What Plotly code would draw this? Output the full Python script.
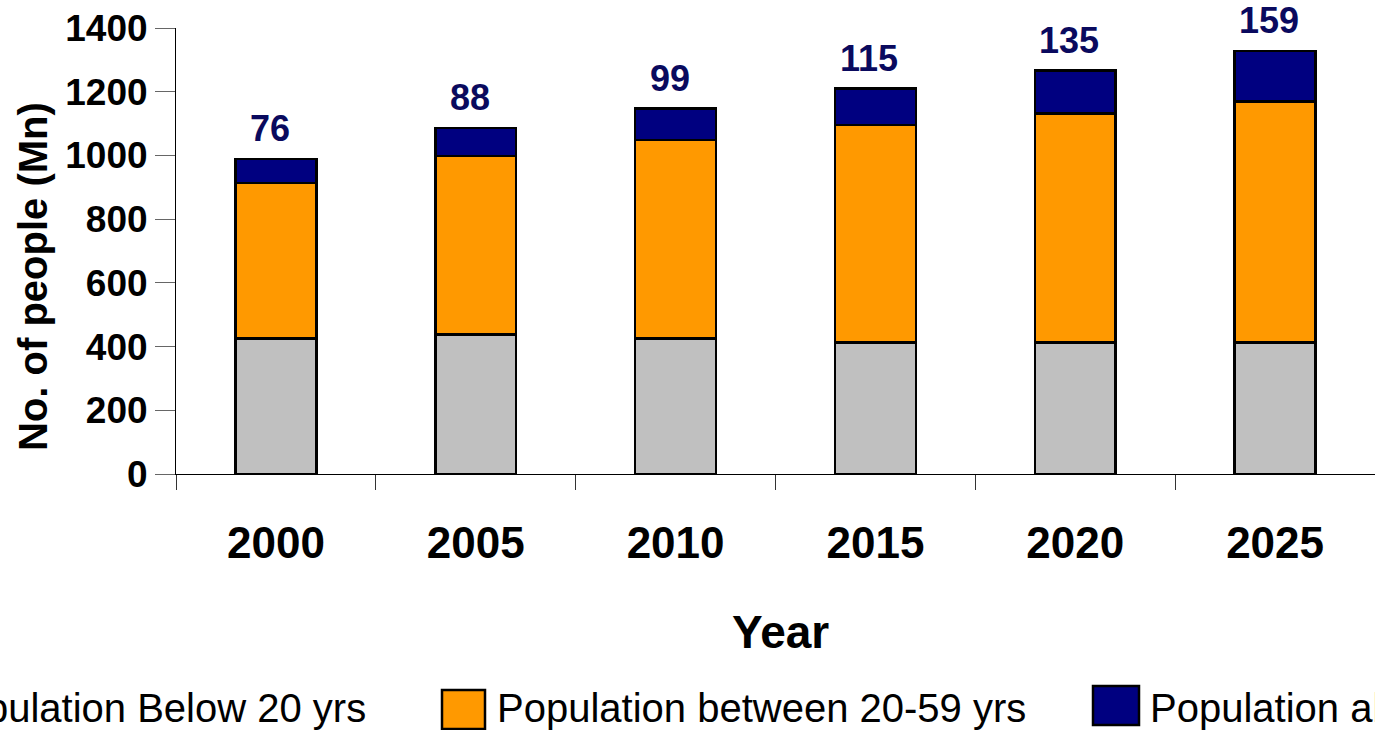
import plotly.graph_objects as go

years = ["2000", "2005", "2010", "2015", "2020", "2025"]
below_20 = [425, 438, 425, 413, 413, 413]
between_20_59 = [488, 560, 623, 682, 718, 756]
above_60 = [76, 88, 99, 115, 135, 159]

series_names = ["Population Below 20 yrs", "Population between 20-59 yrs", "Population above 60 yrs"]
colors = ["#C0C0C0", "#FF9900", "#000080"]

FONT = "Arial, 'Liberation Sans', sans-serif"
W, H = 1375, 730
ML, MR, MT, MB = 176, 0, 28, 256
PW, PH = W - ML - MR, H - MT - MB

def px_x(p):
    return (p - ML) / PW

def px_y(p):
    return (H - MB - p) / PH

fig = go.Figure()
for vals, name, col in zip([below_20, between_20_59, above_60], series_names, colors):
    fig.add_trace(go.Bar(
        x=years, y=vals, name=name, showlegend=False,
        marker=dict(color=col, line=dict(color="#000000", width=2.5)),
    ))

totals = [a + b + c for a, b, c in zip(below_20, between_20_59, above_60)]
for i, (tot, v) in enumerate(zip(totals, above_60)):
    fig.add_annotation(
        x=i, y=tot, xref="x", yref="y", text=str(v), showarrow=False,
        yanchor="bottom", xanchor="center", yshift=9, xshift=-6, borderpad=0,
        font=dict(family=FONT, size=36, color="#0A0A5E", weight="bold"),
    )

# Y axis title
fig.add_annotation(
    x=px_x(33), y=px_y(277), xref="paper", yref="paper", text="No. of people (Mn)",
    showarrow=False, textangle=-90, xanchor="center", yanchor="middle",
    font=dict(family=FONT, size=40, color="#000000", weight="bold"),
)
# X axis title
fig.add_annotation(
    x=px_x(780), y=px_y(632), xref="paper", yref="paper", text="Year",
    showarrow=False, xanchor="center", yanchor="middle",
    font=dict(family=FONT, size=46, color="#000000", weight="bold"),
)

# Legend (drawn manually to match large swatches)
legend_items = [
    (series_names[0], colors[0], None, 368, "right"),
    (series_names[1], colors[1], (442, 690, 485, 729), 495, "left"),
    (series_names[2], colors[2], (1093, 686, 1139, 725), 1148, "left"),
]
for name, col, box, tx, anchor in legend_items:
    if box is not None:
        x0, y0, x1, y1 = box
        fig.add_shape(
            type="rect", xref="paper", yref="paper",
            x0=px_x(x0), x1=px_x(x1), y0=px_y(y1), y1=px_y(y0),
            fillcolor=col, line=dict(color="#000000", width=2.5),
        )
    fig.add_annotation(
        x=px_x(tx), y=px_y(708), xref="paper", yref="paper", text=name,
        showarrow=False, xanchor=anchor, yanchor="middle",
        font=dict(family=FONT, size=40, color="#000000"),
    )

fig.update_layout(
    width=W, height=H,
    margin=dict(l=ML, r=MR, t=MT, b=MB, pad=0),
    barmode="stack", bargap=0.595,
    plot_bgcolor="#FFFFFF", paper_bgcolor="#FFFFFF",
    font=dict(family=FONT, color="#000000"),
    showlegend=False,
    xaxis=dict(
        type="category", range=[-0.5, 5.5], tickson="boundaries", ticks="outside", ticklen=15,
        tickcolor="#333333", tickwidth=1, tickangle=0,
        showline=True, linecolor="#000000", linewidth=1, showgrid=False,
        tickfont=dict(family=FONT, size=44, color="#000000", weight="bold"),
        ticklabelstandoff=30,
    ),
    yaxis=dict(
        range=[0, 1400], dtick=200, ticks="outside", ticklen=20,
        tickcolor="#666666", tickwidth=1,
        showline=True, linecolor="#000000", linewidth=1, showgrid=False, zeroline=False,
        tickfont=dict(family=FONT, size=37, color="#000000", weight="bold"),
    ),
)

fig.write_html("out.html")
